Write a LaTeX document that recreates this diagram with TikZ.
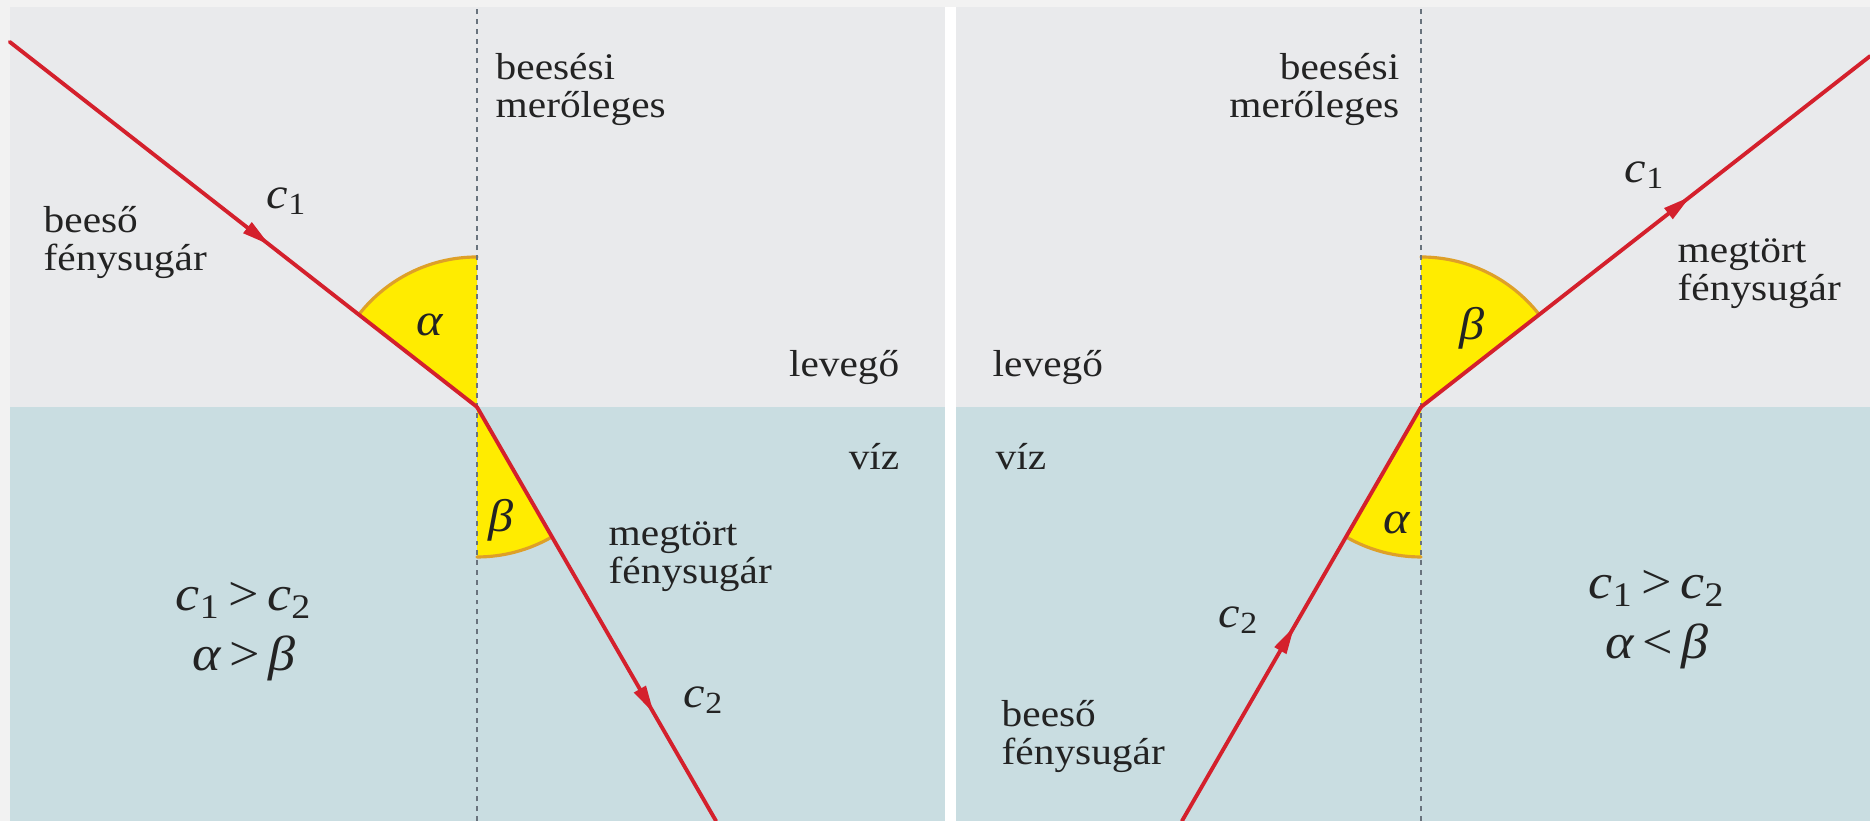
\documentclass[tikz,border=0pt]{standalone}
\usepackage{fontspec}
\setmainfont{Liberation Serif}[FakeStretch=1.1]
\usetikzlibrary{arrows.meta,calc,decorations.markings}

\definecolor{framegray}{RGB}{242,242,242}
\definecolor{airgray}{RGB}{233,234,236}
\definecolor{watercol}{RGB}{201,221,225}
\definecolor{rayred}{RGB}{212,32,44}
\definecolor{anglefill}{RGB}{255,236,0}
\definecolor{angleedge}{RGB}{222,160,40}
\definecolor{normalgray}{RGB}{105,115,125}
\definecolor{textgray}{RGB}{35,35,35}

\newcommand{\spd}[1]{\textit{c}\textsubscript{#1}}

\begin{document}
\begin{tikzpicture}[>=Latex, line cap=round,
  font=\fontsize{10.7}{10.8}\selectfont, text=textgray,
  ray/.style={color=rayred, line width=1.1pt},
  midarrow/.style={postaction={decorate}, decoration={markings,
      mark=at position #1 with {\arrow{Triangle[length=2.8mm,width=1.3mm]}}}},
  normal/.style={normalgray, line width=0.7pt, line cap=butt, dash pattern=on 1.4pt off 1.4pt},
  angfill/.style={fill=anglefill},
  angedge/.style={draw=angleedge, line width=0.9pt},
  lbl/.style={inner sep=0pt, align=left},
  speed/.style={inner sep=0pt, font=\fontsize{12.5}{12.5}\selectfont},
  greek/.style={inner sep=0pt, font=\fontsize{13}{13}\selectfont},
  cmp/.style={inner sep=0pt, align=center, font=\fontsize{14}{17}\selectfont}]
  \useasboundingbox (0,0) rectangle (18.70,8.21);
  % frame and the two panels (air above, water below)
  \fill[framegray] (0,0) rectangle (18.70,8.21);
  \fill[airgray] (0.10,4.14) rectangle (9.45,8.14);
  \fill[watercol] (0.10,0) rectangle (9.45,4.14);
  \fill[white] (9.45,0) rectangle (9.56,8.14);
  \fill[airgray] (9.56,4.14) rectangle (18.70,8.14);
  \fill[watercol] (9.56,0) rectangle (18.70,4.14);

  % points where the rays meet the surface
  \coordinate (O1) at (4.77,4.14);
  \coordinate (O2) at (14.21,4.14);
  \coordinate (A1) at ($(O1)+(142:5.93)$);
  \coordinate (B1) at ($(O1)+(-60:4.78)$);
  \coordinate (A2) at ($(O2)+(240:4.78)$);
  \coordinate (B2) at ($(O2)+(38:5.70)$);

  % angle sectors
  \fill[angfill] (O1) -- ++(90:1.5) arc[start angle=90, end angle=142, radius=1.5] -- cycle;
  \draw[angedge] ($(O1)+(90:1.5)$) arc[start angle=90, end angle=142, radius=1.5];
  \fill[angfill] (O1) -- ++(270:1.5) arc[start angle=270, end angle=300, radius=1.5] -- cycle;
  \draw[angedge] ($(O1)+(270:1.5)$) arc[start angle=270, end angle=300, radius=1.5];
  \fill[angfill] (O2) -- ++(38:1.5) arc[start angle=38, end angle=90, radius=1.5] -- cycle;
  \draw[angedge] ($(O2)+(38:1.5)$) arc[start angle=38, end angle=90, radius=1.5];
  \fill[angfill] (O2) -- ++(240:1.5) arc[start angle=240, end angle=270, radius=1.5] -- cycle;
  \draw[angedge] ($(O2)+(240:1.5)$) arc[start angle=240, end angle=270, radius=1.5];

  % normals
  \draw[normal] (O1 |- 0,0) -- (O1 |- 0,8.14);
  \draw[normal] (O2 |- 0,0) -- (O2 |- 0,8.14);

  % rays
  \draw[ray, midarrow=0.556] (A1) -- (O1);
  \draw[ray, midarrow=0.74] (O1) -- (B1);
  \draw[ray, midarrow=0.47] (A2) -- (O2);
  \draw[ray, midarrow=0.60] (O2) -- (B2);

  % left panel labels
  \node[lbl, anchor=north west] (normL) at (4.95,7.68) {beesési\\merőleges};
  \node[lbl, anchor=north west] (incL) at (0.43,6.15) {beeső\\fénysugár};
  \node[speed] (c1L) at (2.87,6.20) {\spd{1}};
  \node[greek] (alphaL) at (4.30,4.96) {\textit{α}};
  \node[lbl, anchor=base east] (airL) at (9.00,4.44) {levegő};
  \node[lbl, anchor=base east] (watL) at (9.00,3.51) {víz};
  \node[greek] (betaL) at (5.01,3.01) {\textit{β}};
  \node[lbl, anchor=north west] (refL) at (6.08,3.00) {megtört\\fénysugár};
  \node[cmp] (cmpL) at (2.44,1.89) {\spd{1}\,>\,\spd{2}\\\textit{α}\,>\,\textit{β}};
  \node[speed] (c2L) at (7.04,1.21) {\spd{2}};

  % right panel labels
  \node[lbl, anchor=north east, align=right] (normR) at (14.00,7.68) {beesési\\merőleges};
  \node[speed] (c1R) at (16.45,6.46) {\spd{1}};
  \node[lbl, anchor=north west] (refR) at (16.77,5.83) {megtört\\fénysugár};
  \node[greek] (betaR) at (14.72,4.93) {\textit{β}};
  \node[lbl, anchor=base west] (airR) at (9.92,4.44) {levegő};
  \node[lbl, anchor=base west] (watR) at (9.95,3.51) {víz};
  \node[greek] (alphaR) at (13.97,2.98) {\textit{α}};
  \node[speed] (c2R) at (12.39,2.01) {\spd{2}};
  \node[lbl, anchor=north west] (incR) at (10.01,1.21) {beeső\\fénysugár};
  \node[cmp] (cmpR) at (16.57,2.01) {\spd{1}\,>\,\spd{2}\\\textit{α}\,<\,\textit{β}};
\end{tikzpicture}
\end{document}
